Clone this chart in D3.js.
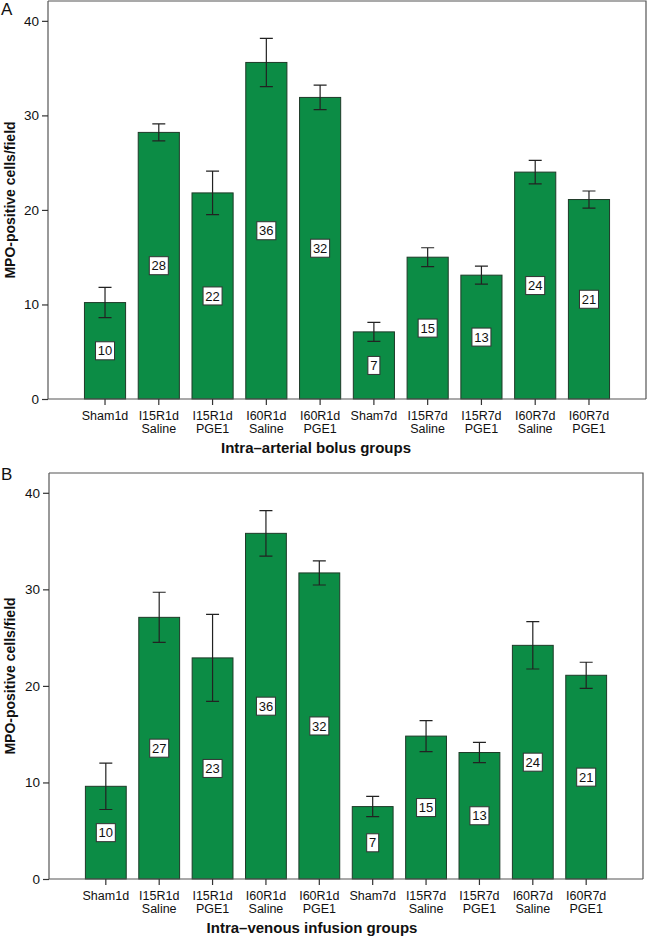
<!DOCTYPE html>
<html lang="en">
<head>
  <meta charset="UTF-8">
  <script src="https://cdn.jsdelivr.net/npm/d3@7"></script>
  <title>MPO-positive cells</title>
  <style>
    body { margin: 0; background: #fff; }
    text { font-family: "Liberation Sans", Arial, sans-serif; fill: #111; }
  </style>
</head>
<body>
<script>
  // categories (two lines each)
  let categories = [
    ['Sham1d'], ['I15R1d', 'Saline'], ['I15R1d', 'PGE1'], ['I60R1d', 'Saline'], ['I60R1d', 'PGE1'],
    ['Sham7d'], ['I15R7d', 'Saline'], ['I15R7d', 'PGE1'], ['I60R7d', 'Saline'], ['I60R7d', 'PGE1']
  ]
  let yTicks = [0, 10, 20, 30, 40]

  // panel A: intra-arterial bolus
  let meanA = [10.2, 28.2, 21.8, 35.6, 31.9, 7.1, 15.0, 13.1, 24.0, 21.1]
  let errA = [1.6, 0.9, 2.3, 2.55, 1.3, 1.0, 1.0, 0.95, 1.25, 0.9]
  let labelA = [10, 28, 22, 36, 32, 7, 15, 13, 24, 21]

  // panel B: intra-venous infusion
  let meanB = [9.6, 27.1, 22.9, 35.8, 31.7, 7.5, 14.8, 13.1, 24.2, 21.1]
  let errB = [2.4, 2.6, 4.5, 2.35, 1.25, 1.05, 1.6, 1.05, 2.45, 1.35]
  let labelB = [10, 27, 23, 36, 32, 7, 15, 13, 24, 21]

  let svg = d3.select('body')
    .append('svg')
    .attr('width', 648)
    .attr('height', 936)

  function drawPanel(p) {
    let g = svg.append('g')

    let x = d3.scaleBand()
      .domain(d3.range(categories.length))
      .range([p.left + 30, p.right - 30])
      .paddingInner(0.235)
      .paddingOuter(0.12)

    let y = d3.scaleLinear()
      .domain([0, p.yMax])
      .range([p.bottom, p.top])

    // frame (top + right)
    g.append('path')
      .attr('d', `M${p.left},${p.top}H${p.right}V${p.bottom}`)
      .attr('fill', 'none')
      .attr('stroke', '#555')
      .attr('stroke-width', 1.2)

    // bars
    g.selectAll('rect.bar')
      .data(p.mean)
      .enter()
      .append('rect')
      .attr('class', 'bar')
      .attr('x', (d, i) => x(i))
      .attr('y', d => y(d))
      .attr('width', x.bandwidth())
      .attr('height', d => y(0) - y(d))
      .attr('fill', '#0c8c45')
      .attr('stroke', '#1e3a28')
      .attr('stroke-width', 1)

    // error bars
    let eb = g.selectAll('g.err')
      .data(p.mean)
      .enter()
      .append('g')
      .attr('transform', (d, i) => `translate(${x(i) + x.bandwidth() / 2},0)`)
    eb.append('path')
      .attr('d', (d, i) => {
        let t = y(d + p.err[i]), b = y(d - p.err[i])
        return `M-6.5,${t}H6.5M0,${t}V${b}M-6.5,${b}H6.5`
      })
      .attr('fill', 'none')
      .attr('stroke', '#222')
      .attr('stroke-width', 1.2)

    // value boxes
    let lb = g.selectAll('g.lbl')
      .data(p.labels)
      .enter()
      .append('g')
      .attr('transform', (d, i) => `translate(${x(i) + x.bandwidth() / 2},${y(p.mean[i] / 2)})`)
    lb.append('rect')
      .attr('x', d => d >= 10 ? -9.5 : -6)
      .attr('y', -9)
      .attr('width', d => d >= 10 ? 19 : 12)
      .attr('height', 18)
      .attr('fill', '#fff')
      .attr('stroke', '#333')
      .attr('stroke-width', 1)
    lb.append('text')
      .attr('text-anchor', 'middle')
      .attr('dy', '0.36em')
      .attr('font-size', 13)
      .text(d => d)

    // y axis
    let yAxis = g.append('g')
      .attr('transform', `translate(${p.left},0)`)
      .call(d3.axisLeft(y).tickValues(yTicks).tickSize(6).tickPadding(3))
    yAxis.select('.domain').attr('d', `M0,${p.top}V${p.bottom}`).attr('stroke', '#555').attr('stroke-width', 1.2)
    yAxis.selectAll('.tick line').attr('stroke', '#333').attr('stroke-width', 1.2)
    yAxis.selectAll('.tick text').attr('font-size', 13.5).attr('fill', '#222')
      .style('font-family', '"Liberation Sans", Arial, sans-serif')

    // x axis
    let xAxis = g.append('g')
      .attr('transform', `translate(0,${p.bottom})`)
      .call(d3.axisBottom(x).tickSize(6).tickFormat(''))
    xAxis.select('.domain').attr('d', `M${p.left},0H${p.right}`).attr('stroke', '#555').attr('stroke-width', 1.2)
    xAxis.selectAll('.tick line').attr('stroke', '#333').attr('stroke-width', 1.2)

    // category labels, one text per line
    let catLines = []
    categories.forEach((c, i) => c.forEach((t, j) => catLines.push({ i: i, j: j, t: t })))
    g.selectAll('text.cat')
      .data(catLines)
      .enter()
      .append('text')
      .attr('class', 'cat')
      .attr('text-anchor', 'middle')
      .attr('font-size', 12.5)
      .attr('x', d => x(d.i) + x.bandwidth() / 2)
      .attr('y', d => p.bottom + 21 + d.j * 13)
      .text(d => d.t)

    // titles
    g.append('text')
      .attr('x', p.titleX)
      .attr('y', p.bottom + 54)
      .attr('text-anchor', 'middle')
      .attr('font-size', 15)
      .attr('font-weight', 'bold')
      .text(p.xTitle)

    g.append('text')
      .attr('transform', `translate(15,${y(p.yMax / 2)}) rotate(-90)`)
      .attr('text-anchor', 'middle')
      .attr('font-size', 14)
      .attr('font-weight', 'bold')
      .text('MPO-positive cells/field')

    g.append('text')
      .attr('x', 1)
      .attr('y', p.top + p.letterDy)
      .attr('font-size', 17)
      .text(p.letter)
  }

  drawPanel({
    letter: 'A', letterDy: 14,
    left: 48, right: 646, top: 1, bottom: 399, yMax: 42.1,
    mean: meanA, err: errA, labels: labelA,
    xTitle: 'Intra\u2013arterial bolus groups', titleX: 316
  })

  drawPanel({
    letter: 'B', letterDy: 7,
    left: 49, right: 643, top: 473, bottom: 879, yMax: 42.05,
    mean: meanB, err: errB, labels: labelB,
    xTitle: 'Intra\u2013venous infusion groups', titleX: 312
  })
</script>
</body>
</html>
